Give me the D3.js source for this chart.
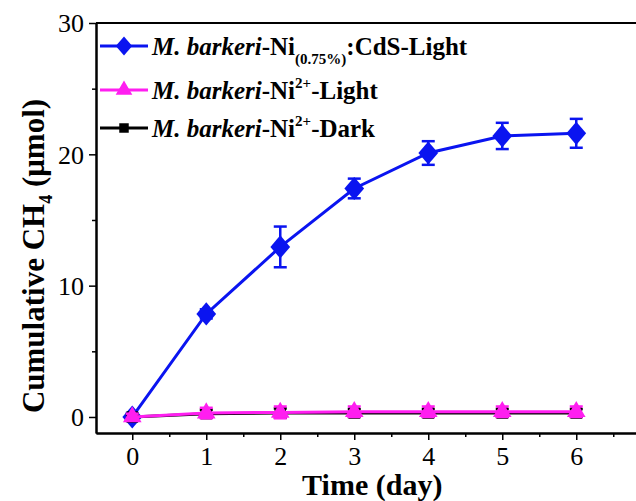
<!DOCTYPE html>
<html>
<head>
<meta charset="utf-8">
<script src="https://cdnjs.cloudflare.com/ajax/libs/d3/7.8.5/d3.min.js"></script>
<style>
  body { margin: 0; background: #fff; }
  svg text { font-family: "Liberation Serif", "Times New Roman", serif; }
</style>
</head>
<body>
<svg id="chart" width="636" height="501"></svg>
<script>
// data
var days = [0, 1, 2, 3, 4, 5, 6];
var cdsLight = [0, 7.85, 12.95, 17.4, 20.1, 21.4, 21.6];
var cdsLightErr = [0.3, 0.35, 1.55, 0.75, 0.9, 1.0, 1.1];
var ni2Light = [0, 0.3, 0.35, 0.4, 0.4, 0.4, 0.4];
var ni2LightErr = [0.25, 0.4, 0.45, 0.4, 0.4, 0.4, 0.4];
var ni2Dark = [0, 0.25, 0.3, 0.3, 0.3, 0.3, 0.3];
var ni2DarkErr = [0.2, 0.3, 0.35, 0.3, 0.3, 0.3, 0.3];
var yTicks = [0, 10, 20, 30];

var svg = d3.select('#chart');
var plotLeft = 96, plotTop = 23, plotBottom = 433;

var x = d3.scaleLinear().domain([-0.49, 6.92]).range([plotLeft, plotLeft + 74 * 7.41]);
var y = d3.scaleLinear().domain([-1.22, 30]).range([plotBottom, plotTop]);

// diamond a bit squarer than d3's own
var diamond = {
  draw: function(ctx, size) {
    var w = Math.sqrt(size) * 0.58, h = Math.sqrt(size) * 0.68;
    ctx.moveTo(0, -h); ctx.lineTo(w, 0); ctx.lineTo(0, h); ctx.lineTo(-w, 0); ctx.closePath();
  }
};

// top frame line
svg.append('line').attr('x1', plotLeft).attr('x2', 700).attr('y1', plotTop).attr('y2', plotTop)
  .attr('stroke', '#000').attr('stroke-width', 2);

var xAxis = d3.axisBottom(x).tickValues(days).tickSize(7).tickSizeOuter(0).tickFormat(d3.format('d'));
var xMinor = d3.axisBottom(x).tickValues([0.5, 1.5, 2.5, 3.5, 4.5, 5.5, 6.5]).tickSize(4).tickSizeOuter(0).tickFormat('');
var yAxis = d3.axisLeft(y).tickValues(yTicks).tickSize(7).tickSizeOuter(0).tickFormat(d3.format('d'));
var yMinor = d3.axisLeft(y).tickValues([5, 15, 25]).tickSize(4).tickSizeOuter(0).tickFormat('');

function styleAxis(g) {
  g.select('.domain').attr('stroke-width', 2);
  g.selectAll('.tick line').attr('stroke-width', 1.5);
  g.selectAll('.tick text').attr('font-size', 26).attr('font-family', '"Liberation Serif", serif').attr('fill', '#000');
}

svg.append('g').attr('transform', 'translate(0,' + plotBottom + ')').call(xMinor).call(styleAxis);
svg.append('g').attr('transform', 'translate(0,' + plotBottom + ')').call(xAxis).call(styleAxis)
  .selectAll('.tick text').attr('y', 8).attr('dy', '0.93em');
svg.append('g').attr('transform', 'translate(' + plotLeft + ',0)').call(yMinor).call(styleAxis);
svg.append('g').attr('transform', 'translate(' + plotLeft + ',0)').call(yAxis).call(styleAxis)
  .selectAll('.tick text').attr('x', -12).attr('dy', '0.34em');

// axis titles
svg.append('text').attr('x', x(3) + 18).attr('y', 495).attr('text-anchor', 'middle')
  .attr('font-size', 30).attr('font-weight', 'bold').text('Time (day)');

var yt = svg.append('text').attr('transform', 'translate(44,256) rotate(-90)')
  .attr('text-anchor', 'middle').attr('font-size', 31).attr('font-weight', 'bold');
yt.append('tspan').text('Cumulative CH');
yt.append('tspan').attr('font-size', 18).attr('dy', 8).text('4');
yt.append('tspan').attr('dy', -8).text(' (μmol)');

var series = [
  {values: cdsLight, err: cdsLightErr, color: '#0a14f0', symbol: diamond, size: 290},
  {values: ni2Dark, err: ni2DarkErr, color: '#000', symbol: d3.symbolSquare, size: 130},
  {values: ni2Light, err: ni2LightErr, color: '#ff1ef0', symbol: d3.symbolTriangle, size: 150}
];

var line = d3.line().x(function(d, i) { return x(days[i]); }).y(function(d) { return y(d); });

series.forEach(function(s) {
  var g = svg.append('g');
  g.append('path').datum(s.values).attr('d', line).attr('fill', 'none')
    .attr('stroke', s.color).attr('stroke-width', 3);
  s.values.forEach(function(v, i) {
    var cx = x(days[i]);
    var y1 = y(v + s.err[i]), y2 = y(v - s.err[i]);
    g.append('line').attr('x1', cx).attr('x2', cx).attr('y1', y1).attr('y2', y2)
      .attr('stroke', s.color).attr('stroke-width', 2.5);
    [y1, y2].forEach(function(yy) {
      g.append('line').attr('x1', cx - 6.5).attr('x2', cx + 6.5).attr('y1', yy).attr('y2', yy)
        .attr('stroke', s.color).attr('stroke-width', 2.5);
    });
    g.append('path').attr('d', d3.symbol().type(s.symbol).size(s.size)())
      .attr('transform', 'translate(' + cx + ',' + y(v) + ')')
      .attr('fill', s.color);
  });
});

// legend
var legend = [
  {color: '#0a14f0', symbol: diamond, size: 200, y: 46, parts: [['M. barkeri', 'i'], ['-Ni', ''], ['(0.75%)', 'sub'], [':CdS-Light', '']]},
  {color: '#ff1ef0', symbol: d3.symbolTriangle, size: 120, y: 90, parts: [['M. barkeri', 'i'], ['-Ni', ''], ['2+', 'sup'], ['-Light', '']]},
  {color: '#000', symbol: d3.symbolSquare, size: 90, y: 128, parts: [['M. barkeri', 'i'], ['-Ni', ''], ['2+', 'sup'], ['-Dark', '']]}
];

legend.forEach(function(l) {
  svg.append('line').attr('x1', 100).attr('x2', 148).attr('y1', l.y).attr('y2', l.y)
    .attr('stroke', l.color).attr('stroke-width', 3);
  svg.append('path').attr('d', d3.symbol().type(l.symbol).size(l.size)())
    .attr('transform', 'translate(124,' + l.y + ')').attr('fill', l.color);
  var t = svg.append('text').attr('x', 152).attr('y', l.y + 9).attr('font-size', 25).attr('font-weight', 'bold');
  var shift = 0;
  l.parts.forEach(function(p) {
    var ts = t.append('tspan').text(p[0]);
    var dy = 0;
    if (p[1] === 'i') ts.attr('font-style', 'italic');
    if (p[1] === 'sub') { ts.attr('font-size', 15); dy = 9; }
    if (p[1] === 'sup') { ts.attr('font-size', 15); dy = -11; }
    if (dy - shift !== 0) ts.attr('dy', dy - shift);
    shift = dy;
  });
});
</script>
</body>
</html>
